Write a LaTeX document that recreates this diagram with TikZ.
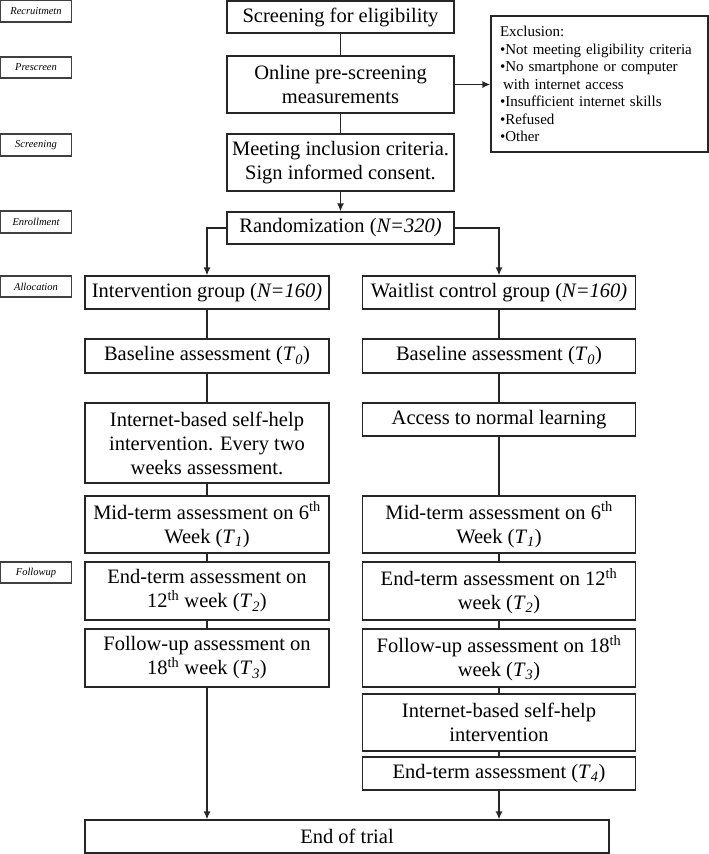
\documentclass[tikz,border=0pt]{standalone}
\usepackage{fontspec}
\setmainfont{Liberation Serif}
\usetikzlibrary{arrows.meta}
\begin{document}
\begin{tikzpicture}[x=1pt,y=-1pt,
  box/.style={draw=black!85,line width=1.3pt,align=center,inner sep=2pt,
    font=\fontsize{20.5}{24}\selectfont},
  lab/.style={draw=black!75,line width=1.4pt,inner sep=1pt,minimum width=71pt,
    font=\fontsize{10.5}{12}\selectfont\itshape},
  conn/.style={draw=black!85,line width=1.3pt},
  arr/.style={conn,-{Latex[length=8pt,width=7pt]}}]
\useasboundingbox (0,0) rectangle (709,854);
% side labels
\node[lab,minimum height=22pt] (l1) at (36,11) {Recruitmetn};
\node[lab,minimum height=21pt] (l2) at (36,67.5) {Prescreen};
\node[lab,minimum height=22pt] (l3) at (36,145) {Screening};
\node[lab,minimum height=22pt] (l4) at (36,222) {Enrollment};
\node[lab,minimum height=21pt] (l5) at (36,286.5) {Allocation};
\node[lab,minimum height=21pt] (l6) at (36,572.5) {Followup};
% top column
\node[box,minimum width=227pt,minimum height=32pt] (scr) at (340.5,17) {Screening for eligibility};
\node[box,minimum width=227pt,minimum height=57pt] (onl) at (340.5,84.5) {Online pre-screening\\measurements};
\node[box,minimum width=227pt,minimum height=57pt] (meet) at (340.5,162.5) {Meeting inclusion criteria.\\Sign informed consent.};
\node[box,minimum width=227pt,minimum height=32pt] (rand) at (340.5,228) {Randomization (\textit{N=320)}};
\node[draw=black!85,line width=1.3pt,text width=199pt,inner xsep=9pt,align=left,
  minimum height=136pt,font=\fontsize{15}{17.5}\selectfont] (excl) at (599.5,84)
  {Exclusion:\\
   •Not meeting eligibility criteria\\
   •No smartphone or computer\\
   \hspace*{3pt}with internet access\\
   •Insufficient internet skills\\
   •Refused\\
   •Other};
% left column
\node[box,minimum width=244pt,minimum height=33pt] (ig) at (207,292.5) {Intervention group (\textit{N=160)}};
\node[box,minimum width=244pt,minimum height=34pt] (bl) at (207,356) {Baseline assessment (\textit{T}\textsubscript{\textit{0}})};
\node[box,minimum width=244pt,minimum height=80pt] (ib) at (207,443) {Internet-based self-help\\intervention. Every two\\weeks assessment.};
\node[box,minimum width=244pt,minimum height=57pt] (mt) at (207,524.5) {Mid-term assessment on 6\textsuperscript{th}\\Week (\textit{T}\textsubscript{\textit{1}})};
\node[box,minimum width=244pt,minimum height=58pt] (et) at (207,591) {End-term assessment on\\12\textsuperscript{th} week (\textit{T}\textsubscript{\textit{2}})};
\node[box,minimum width=244pt,minimum height=58pt] (fu) at (207,658) {Follow-up assessment on\\18\textsuperscript{th} week (\textit{T}\textsubscript{\textit{3}})};
% right column
\node[box,minimum width=273pt,minimum height=33pt] (wg) at (499,292.5) {Waitlist control group (\textit{N=160)}};
\node[box,minimum width=273pt,minimum height=34pt] (blr) at (499,356) {Baseline assessment (\textit{T}\textsubscript{\textit{0}})};
\node[box,minimum width=273pt,minimum height=33pt] (acc) at (499,419.5) {Access to normal learning};
\node[box,minimum width=273pt,minimum height=57pt] (mtr) at (499,524.5) {Mid-term assessment on 6\textsuperscript{th}\\Week (\textit{T}\textsubscript{\textit{1}})};
\node[box,minimum width=273pt,minimum height=58pt] (etr) at (499,591) {End-term assessment on 12\textsuperscript{th}\\week (\textit{T}\textsubscript{\textit{2}})};
\node[box,minimum width=273pt,minimum height=58pt] (fur) at (499,658) {Follow-up assessment on 18\textsuperscript{th}\\week (\textit{T}\textsubscript{\textit{3}})};
\node[box,minimum width=273pt,minimum height=57pt] (ibr) at (499,722.5) {Internet-based self-help\\intervention};
\node[box,minimum width=273pt,minimum height=33pt] (et4) at (499,773.5) {End-term assessment (\textit{T}\textsubscript{\textit{4}})};
% end
\node[box,minimum width=524pt,minimum height=33pt] (end) at (347,836.5) {End of trial};
% connectors
\draw[conn] (scr) -- (onl);
\draw[conn] (onl) -- (meet);
\draw[arr] (meet) -- (rand);
\draw[arr] (onl.east) -- (onl.east -| excl.west);
\draw[arr] (rand.west) -| (ig.north);
\draw[arr] (rand.east) -| (wg.north);
\draw[conn] (ig) -- (bl);
\draw[conn] (bl) -- (ib);
\draw[conn] (ib) -- (mt);
\draw[conn] (mt) -- (et);
\draw[conn] (et) -- (fu);
\draw[arr] (fu.south) -- (fu.south |- end.north);
\draw[conn] (wg) -- (blr);
\draw[conn] (blr) -- (acc);
\draw[conn] (acc) -- (mtr);
\draw[conn] (mtr) -- (etr);
\draw[conn] (etr) -- (fur);
\draw[conn] (fur) -- (ibr);
\draw[conn] (ibr) -- (et4);
\draw[arr] (et4.south) -- (et4.south |- end.north);
\end{tikzpicture}
\end{document}
